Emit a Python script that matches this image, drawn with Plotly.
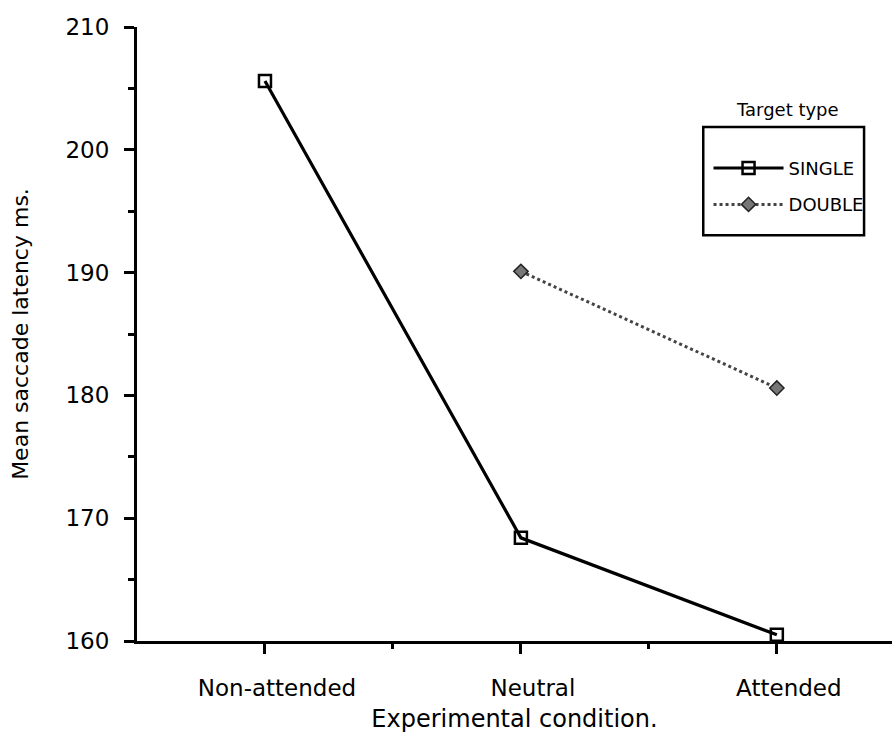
import plotly.graph_objects as go

# Mean saccade latency (ms) by experimental condition and target type
conditions = ["Non-attended", "Neutral", "Attended"]
single_latency = [205.6, 168.4, 160.5]
double_conditions = ["Neutral", "Attended"]
double_latency = [190.1, 180.6]

y_ticks = [160, 170, 180, 190, 200, 210]

cat_pos = {c: i for i, c in enumerate(conditions)}

FONT = "DejaVu Sans"

fig = go.Figure()

fig.add_trace(go.Scatter(
    x=[cat_pos[c] for c in conditions], y=single_latency,
    mode="lines+markers", name="SINGLE", legendgroup="single",
    line=dict(color="black", width=3.2),
    marker=dict(symbol="square-open", size=12, color="black", line=dict(width=2.5)),
))
fig.add_trace(go.Scatter(
    x=[cat_pos[c] for c in double_conditions], y=double_latency,
    mode="lines+markers", name="DOUBLE", legendgroup="double",
    line=dict(color="#444444", width=3, dash="dot"),
    marker=dict(symbol="diamond", size=11, color="#777777",
                line=dict(color="#222222", width=1.5)),
))

fig.update_layout(
    width=892, height=744,
    margin=dict(l=137, r=0, t=27, b=103),
    paper_bgcolor="white", plot_bgcolor="white",
    showlegend=True,
    legend=dict(
        x=0.757, y=0.800, xanchor="left", yanchor="top",
        borderwidth=0, bgcolor="rgba(0,0,0,0)",
        font=dict(family=FONT, size=18, color="black"),
        tracegroupgap=10, itemwidth=70,
    ),
    # frame around the legend entries, with the legend heading above it
    shapes=[dict(
        type="rect", xref="paper", yref="paper",
        x0=0.750, x1=0.963, y0=0.661, y1=0.837,
        line=dict(color="black", width=2.5), fillcolor="rgba(0,0,0,0)",
    )],
    annotations=[dict(
        x=0.861, y=0.865, xref="paper", yref="paper",
        text="Target type", showarrow=False, xanchor="center", yanchor="middle",
        font=dict(family=FONT, size=18, color="black"),
    )],
    xaxis=dict(
        range=[-0.5, 2.45],
        tickvals=[0, 1, 2], ticktext=conditions,
        ticks="outside", ticklen=10, tickwidth=2.5, tickcolor="black",
        minor=dict(tickvals=[0.5, 1.5], ticks="outside", ticklen=5,
                   tickwidth=2.5, tickcolor="black"),
        ticklabelstandoff=14, ticklabelshift=12,
        showline=True, linecolor="black", linewidth=3,
        showgrid=False, zeroline=False,
        tickfont=dict(family=FONT, size=23, color="black"),
        title=dict(text="Experimental condition.", standoff=11,
                   font=dict(family=FONT, size=24, color="black")),
    ),
    yaxis=dict(
        range=[160, 210],
        tickvals=y_ticks,
        ticks="outside", ticklen=10, tickwidth=2.5, tickcolor="black",
        minor=dict(dtick=5, ticks="outside", ticklen=6, tickwidth=2.5,
                   tickcolor="black"),
        ticklabelstandoff=10,
        showline=True, linecolor="black", linewidth=3,
        showgrid=False, zeroline=False,
        tickfont=dict(family=FONT, size=23, color="black"),
        title=dict(text="Mean saccade latency ms.", standoff=31,
                   font=dict(family=FONT, size=22, color="black")),
    ),
)

fig.write_html("out.html")
